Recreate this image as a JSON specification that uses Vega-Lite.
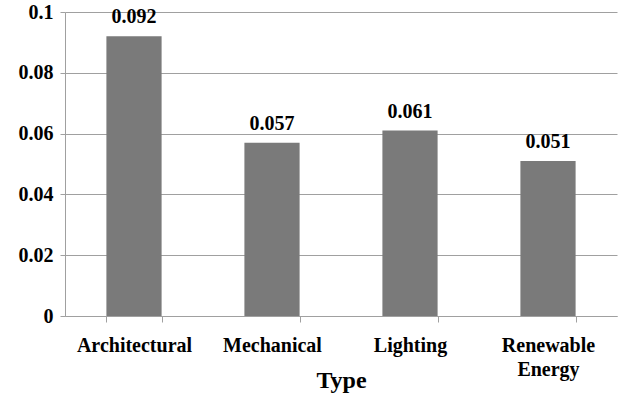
{
  "$schema": "https://vega.github.io/schema/vega-lite/v6.json",
  "width": 552,
  "height": 304,
  "autosize": {"type": "none"},
  "padding": {"left": 65, "top": 12, "right": 6, "bottom": 81},
  "background": "white",
  "config": {
    "view": {"stroke": null},
    "font": "Times New Roman, Liberation Serif, serif",
    "axis": {
      "labelFont": "Times New Roman, Liberation Serif, serif",
      "labelFontWeight": "bold",
      "labelFontSize": 20,
      "labelColor": "black",
      "titleFont": "Times New Roman, Liberation Serif, serif",
      "titleFontWeight": "bold",
      "titleColor": "black",
      "domainColor": "#a0a0a0",
      "tickColor": "#a0a0a0",
      "gridColor": "#a0a0a0"
    }
  },
  "data": {
    "values": [
      {"Type": "Architectural", "value": 0.092},
      {"Type": "Mechanical", "value": 0.057},
      {"Type": "Lighting", "value": 0.061},
      {"Type": "Renewable Energy", "value": 0.051}
    ]
  },
  "encoding": {
    "x": {
      "field": "Type",
      "type": "nominal",
      "sort": null,
      "scale": {"paddingInner": 0.6, "paddingOuter": 0.3},
      "axis": {
        "labelAngle": 0,
        "tickBand": "extent",
        "tickSize": 6,
        "labelPadding": 13,
        "labelLineHeight": 24,
        "labelExpr": "datum.value == 'Renewable Energy' ? ['Renewable', 'Energy'] : datum.value",
        "title": "Type",
        "titleFontSize": 24,
        "titleY": 64,
        "titleBaseline": "middle",
        "grid": false
      }
    }
  },
  "layer": [
    {
      "mark": {"type": "bar", "color": "#7a7a7a"},
      "encoding": {
        "y": {
          "field": "value",
          "type": "quantitative",
          "scale": {"domain": [0, 0.1], "nice": false},
          "axis": {
            "values": [0, 0.02, 0.04, 0.06, 0.08, 0.1],
            "format": "~g",
            "title": null,
            "tickSize": 5,
            "labelPadding": 7,
            "grid": true
          }
        }
      }
    },
    {
      "mark": {"type": "text", "baseline": "bottom", "dy": -9, "fontSize": 20, "fontWeight": "bold", "font": "Times New Roman, Liberation Serif, serif", "color": "black"},
      "encoding": {
        "y": {"field": "value", "type": "quantitative"},
        "text": {"field": "value", "type": "quantitative", "format": ".3f"}
      }
    }
  ]
}
